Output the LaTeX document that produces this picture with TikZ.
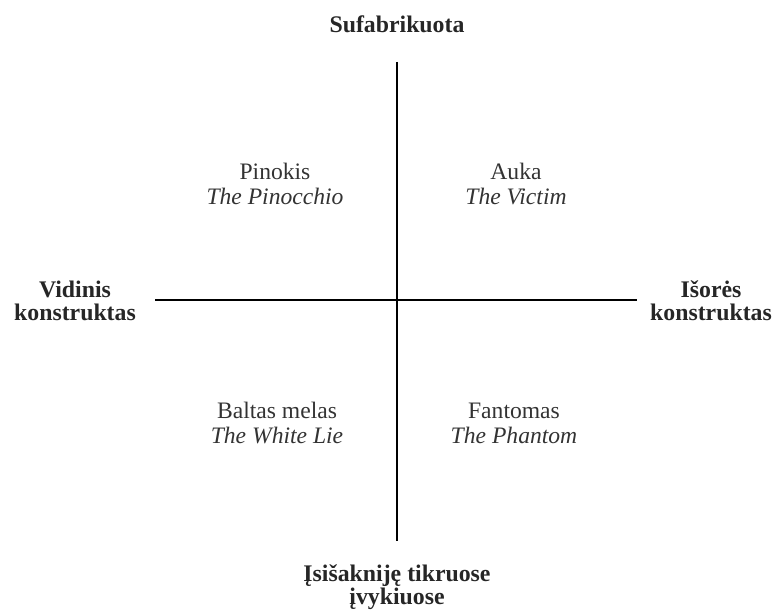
\documentclass[tikz,border=0pt]{standalone}
\usepackage{fontspec}
\setmainfont{Liberation Serif}
\begin{document}
\begin{tikzpicture}[x=1pt,y=-1pt,
  axis/.style={line width=1.3pt, black},
  pole/.style={font=\fontsize{23.8}{23}\selectfont\bfseries, align=center, inner sep=0pt, text=black!85},
  quad/.style={font=\fontsize{23.6}{25}\selectfont, align=center, inner sep=0pt, text=black!80}]
\useasboundingbox (0,0) rectangle (778,612);
\coordinate (top) at (397,62);
\coordinate (bot) at (397,541);
\coordinate (lft) at (155,300);
\coordinate (rgt) at (637,300);
\draw[axis] (top) -- (bot);
\draw[axis] (lft) -- (rgt);
\node[pole] (n) at (397,24) {Sufabrikuota};
\node[pole] (w) at (75,301) {Vidinis\\konstruktas};
\node[pole] (e) at (711,301) {Išorės\\konstruktas};
\node[pole] (s) at (397,587) {Įsišakniję tikruose\\įvykiuose};
\node[quad] (q1) at (275,184) {Pinokis\\\itshape The Pinocchio};
\node[quad] (q2) at (516,184) {Auka\\\itshape The Victim};
\node[quad] (q3) at (277,423) {Baltas melas\\\itshape The White Lie};
\node[quad] (q4) at (514,423) {Fantomas\\\itshape The Phantom};
\end{tikzpicture}
\end{document}
